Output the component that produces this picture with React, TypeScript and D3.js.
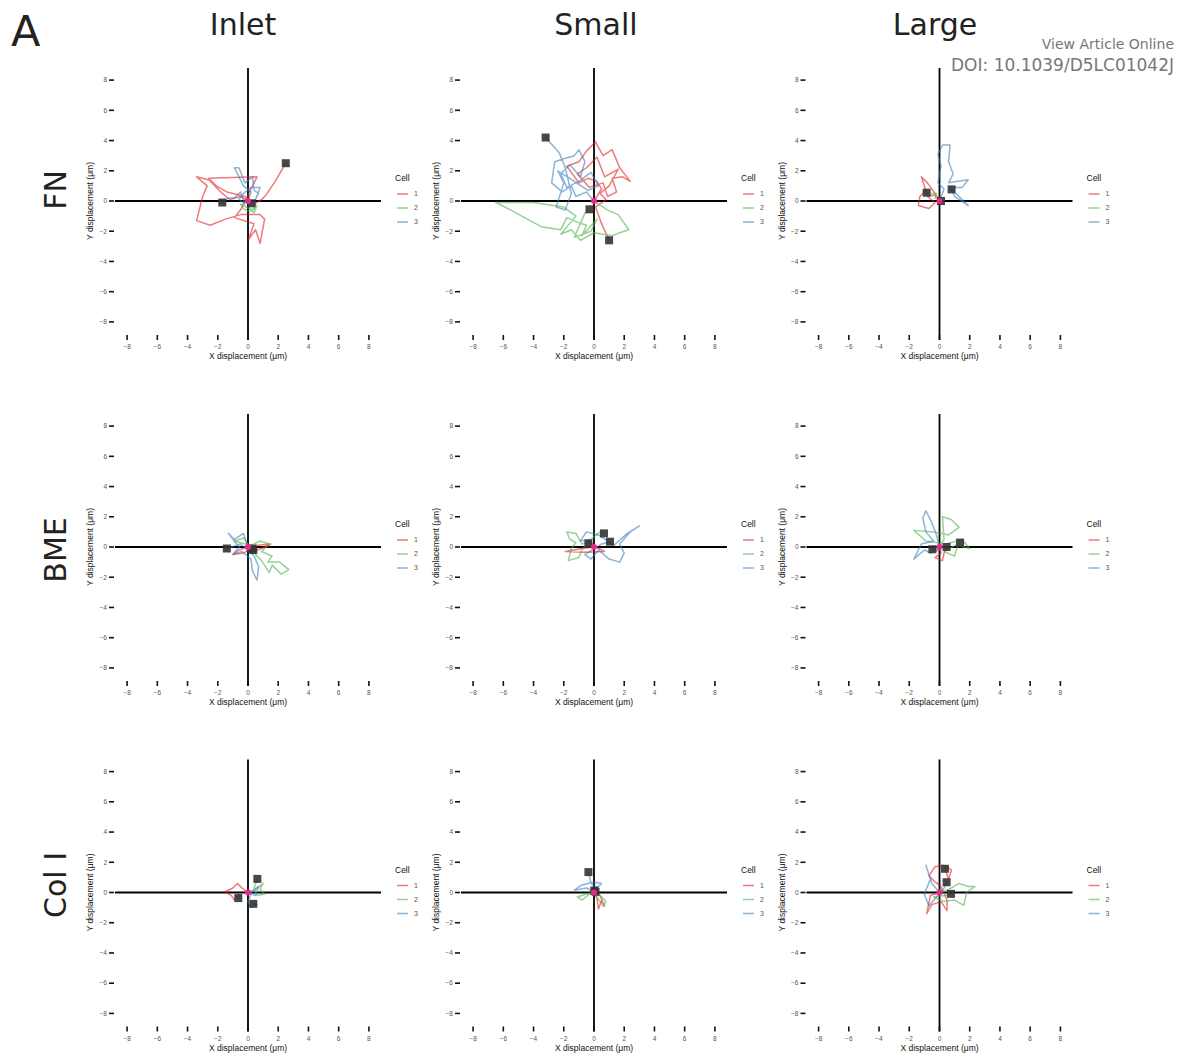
import React from "react";
import * as d3 from "d3";

type Pt = [number, number];

const columns = ["Inlet", "Small", "Large"];
const rows = ["FN", "BME", "Col I"];
const cellNames = ["1", "2", "3"];
const cellColors = ["#e41a1c", "#4daf4a", "#377eb8"];
const tickValues = [-8, -6, -4, -2, 0, 2, 4, 6, 8];

// FN
const fnInlet1: Pt[] = [[0, 0], [-0.5, 0.3], [-1.2, 0.1], [-1.7, 0.5], [-2.6, 1.4], [-3.4, 1.6], [-2.7, 1.0], [-3.0, 0.3], [-3.4, -1.3], [-2.5, -1.6], [-1.5, -1.2], [-0.5, -0.9], [0.8, -0.9], [1.1, -1.2], [0.8, -2.8], [0.5, -1.9], [0.0, -2.6], [0.4, -1.5], [-0.9, -1.1], [-0.5, -0.6], [0.6, 1.6], [-2.6, 1.5], [-2.1, 1.0], [-1.4, 0.6], [-1.0, 0.5], [-0.2, 0.3], [0.4, -0.2], [0.9, 0.1], [1.2, 0.4], [1.8, 1.3], [2.5, 2.5]];
const fnInlet2: Pt[] = [[0, 0], [0.3, -0.3], [0.5, -0.5], [0.1, -0.7], [-0.3, -0.5], [-0.5, -0.2], [-0.1, -0.4], [0.2, -0.6], [0.6, -0.3], [0.4, -0.8], [0.1, -0.45], [0.25, -0.15]];
const fnInlet3: Pt[] = [[0, 0], [0.2, 0.6], [-0.3, 1.0], [-0.6, 1.6], [-0.9, 2.2], [-0.6, 2.2], [-0.2, 1.2], [0.3, 1.6], [0.4, 0.7], [0.7, 0.5], [0.5, 0.1], [0.8, 0.9], [0.2, 0.9], [-0.3, 0.5], [-0.6, 0.1], [-0.2, -0.2], [-0.5, 0.6], [-0.9, 0.2], [-1.3, 0.2], [-1.7, -0.1]];
const fnSmall1: Pt[] = [[0, 0], [0.5, 0.8], [0.2, 1.3], [-0.4, 1.5], [-1.0, 1.2], [-1.8, 2.3], [-1.0, 2.6], [-0.5, 3.3], [0.1, 3.9], [0.6, 3.0], [1.2, 3.4], [1.7, 2.2], [2.4, 1.3], [1.9, 1.6], [1.2, 1.5], [1.5, 0.6], [0.9, 0.3], [0.6, 1.2], [-0.3, 0.9], [-1.1, 1.8], [-0.5, 2.2], [0.2, 2.9], [0.7, 1.6], [1.6, 2.1], [1.0, 1.0], [0.4, 0.5], [0.8, 0.1], [0.1, -0.4], [0.5, -1.5], [1.0, -2.6]];
const fnSmall2: Pt[] = [[0, 0], [0.9, -0.6], [1.6, -0.9], [2.3, -1.9], [1.7, -2.1], [1.2, -2.3], [0.0, -2.1], [-0.9, -2.6], [-1.5, -1.9], [-2.2, -2.2], [-1.2, -1.0], [-2.0, -0.4], [-4.0, -0.1], [-6.5, -0.1], [-5.5, -0.6], [-3.5, -1.7], [-2.2, -1.9], [-1.8, -1.1], [-1.1, -1.4], [-0.5, -1.6], [-0.8, -2.3], [0.2, -1.2], [-0.2, -2.0], [-1.3, -2.4], [-0.6, -0.8], [-0.3, -0.55]];
const fnSmall3: Pt[] = [[0, 0], [-0.5, 0.6], [-1.2, 0.3], [-1.5, 1.0], [-2.1, 0.6], [-2.8, 1.2], [-2.6, 2.6], [-2.0, 2.8], [-1.3, 3.0], [-1.0, 3.4], [-0.6, 2.6], [-0.9, 1.6], [-1.6, 2.4], [-2.2, 1.8], [-1.8, 0.9], [-1.0, 1.3], [-0.2, 1.9], [0.3, 1.0], [-0.4, 0.7], [-1.6, 1.5], [-2.4, 2.0], [-2.0, 1.2], [-2.5, -0.4], [-1.9, -0.6], [-1.5, 0.5], [-1.9, 2.2], [-2.3, 3.2], [-3.2, 4.2]];
const fnLarge1: Pt[] = [[0, 0], [-0.3, 0.5], [-0.8, 1.2], [-1.2, 1.6], [-0.9, 0.7], [-1.3, 0.3], [-1.4, -0.3], [-0.7, -0.5], [-0.3, -0.1], [-0.8, 0.3], [-0.3, 0.4], [0.1, 0.0]];
const fnLarge2: Pt[] = [[0, 0], [-0.3, 0.2], [-0.2, 0.5], [-0.6, 0.5], [-0.85, 0.55]];
const fnLarge3: Pt[] = [[0, 0], [0.3, 0.8], [-0.1, 1.2], [0.1, 2.3], [-0.1, 3.1], [0.2, 3.7], [0.7, 3.7], [0.6, 2.6], [0.9, 1.8], [0.6, 1.2], [1.9, 1.4], [1.5, 0.9], [0.7, 0.9], [1.0, 0.3], [1.9, -0.3], [0.8, 0.77]];

// BME
const bmeInlet1: Pt[] = [[0, 0], [-0.6, -0.2], [-1.0, -0.5], [-0.3, -0.4], [0.5, 0.1], [1.5, 0.2], [0.9, -0.1], [0.3, -0.3], [0.3, -0.1]];
const bmeInlet2: Pt[] = [[0, 0], [0.8, 0.4], [1.4, 0.2], [0.9, -0.3], [1.6, -0.6], [1.3, -1.0], [2.1, -1.0], [2.7, -1.5], [2.2, -1.8], [1.6, -1.2], [1.4, -1.7], [0.9, -0.9], [0.4, -0.4], [-0.3, 0.6], [-0.9, 0.4], [0.2, 0.1], [0.35, -0.2]];
const bmeInlet3: Pt[] = [[0, 0], [-0.3, 0.9], [-0.9, 0.5], [-1.3, 0.9], [-0.6, 0.0], [-1.0, -0.5], [-0.4, -0.3], [0.2, -0.8], [0.3, -1.6], [0.6, -2.2], [0.7, -1.3], [0.4, -0.6], [0.0, -0.2], [-0.5, 0.2], [-1.4, -0.1]];
const bmeSmall1: Pt[] = [[0, 0], [-0.8, -0.1], [-1.9, -0.3], [-0.6, -0.35], [0.7, -0.3], [0.3, -0.1], [-0.37, 0.24]];
const bmeSmall2: Pt[] = [[0, 0], [-0.4, 0.3], [-0.8, 0.2], [-1.2, 0.9], [-1.8, 1.0], [-1.6, 0.5], [-1.2, 0.3], [-1.5, -0.1], [-1.7, -0.9], [-1.0, -0.7], [-0.8, -0.2], [-0.2, 0.5], [0.4, 1.0], [0.66, 0.9]];
const bmeSmall3: Pt[] = [[0, 0], [-0.3, 0.5], [-0.9, 0.4], [-0.5, 1.0], [0.3, 0.8], [1.3, 0.1], [2.2, 0.9], [3.0, 1.4], [2.4, 1.0], [1.7, 0.2], [2.0, -0.4], [1.7, -1.0], [1.0, -0.8], [0.3, -0.2], [-0.2, -0.8], [-0.6, -0.5], [0.5, 0.2], [1.06, 0.35]];
const bmeLarge1: Pt[] = [[0, 0], [0.1, -0.4], [-0.3, -0.7], [0.2, -0.9], [0.3, -0.4], [0.47, 0.0]];
const bmeLarge2: Pt[] = [[0, 0], [0.3, 0.5], [0.2, 2.0], [0.8, 1.8], [1.3, 1.3], [0.6, 0.8], [-0.4, 1.0], [-1.7, 1.1], [-0.9, 0.4], [0.4, 0.2], [1.5, 0.5], [2.0, -0.1], [1.2, 0.1], [1.0, -0.6], [0.3, -0.3], [1.36, 0.29]];
const bmeLarge3: Pt[] = [[0, 0], [-0.2, 0.8], [-0.5, 1.6], [-0.9, 2.4], [-1.1, 1.9], [-0.9, 1.0], [-0.4, 0.4], [-1.2, 0.2], [-1.7, -0.8], [-1.0, -0.2], [-0.6, -0.4], [0.0, -0.2], [-0.47, -0.15]];

// Col I
const colInlet1: Pt[] = [[0, 0], [-0.4, 0.3], [-0.7, 0.6], [-1.0, 0.3], [-1.5, 0.05], [-1.1, -0.2], [-0.9, -0.5], [-0.6, -0.1], [-0.64, -0.37]];
const colInlet2: Pt[] = [[0, 0], [0.5, 0.2], [1.0, 0.6], [0.8, 0.2], [1.1, -0.1], [0.6, -0.2], [0.4, 0.3], [0.62, 0.9]];
const colInlet3: Pt[] = [[0, 0], [0.5, -0.2], [0.7, 0.4], [0.3, 0.1], [0.0, -0.6], [0.2, -1.0], [0.6, -0.8], [0.35, -0.75]];
const colSmall1: Pt[] = [[0, 0], [0.2, -0.4], [0.3, -1.1], [0.5, -0.5], [0.7, -0.9], [0.4, -0.2], [0.1, 0.05]];
const colSmall2: Pt[] = [[0, 0], [-0.5, -0.1], [-1.1, -0.3], [-0.8, -0.5], [-0.3, -0.1], [0.4, -0.2], [0.8, -0.6], [0.6, -0.9], [0.2, -0.3], [0.02, 0.13]];
const colSmall3: Pt[] = [[0, 0], [-0.5, 0.3], [-1.3, 0.15], [-0.8, 0.5], [0.0, 0.7], [0.5, 0.6], [0.2, 0.3], [-0.2, 0.6], [-0.37, 1.35]];
const colLarge1: Pt[] = [[0, 0], [-0.6, -0.2], [-0.85, -1.4], [-0.5, -0.8], [0.1, -0.6], [0.5, -1.2], [0.5, -0.5], [0.1, 0.4], [-0.3, 0.7], [-0.7, 1.1], [-0.3, 1.7], [0.25, 1.8], [0.8, 1.5], [0.6, 0.9], [0.36, 1.57]];
const colLarge2: Pt[] = [[0, 0], [0.6, 0.2], [1.3, 0.6], [1.9, 0.4], [2.35, 0.4], [1.8, 0.0], [1.6, -0.85], [1.0, -0.5], [0.3, -0.6], [-0.4, -0.3], [0.4, -0.2], [0.76, -0.09]];
const colLarge3: Pt[] = [[0, 0], [-0.5, 0.6], [-0.9, 1.8], [-0.6, 0.9], [-1.0, -0.1], [-0.7, -0.9], [-0.2, -0.3], [0.3, 0.3], [0.47, 0.68]];

const panelTracks: Pt[][][][] = [
  [[fnInlet1, fnInlet2, fnInlet3], [fnSmall1, fnSmall2, fnSmall3], [fnLarge1, fnLarge2, fnLarge3]],
  [[bmeInlet1, bmeInlet2, bmeInlet3], [bmeSmall1, bmeSmall2, bmeSmall3], [bmeLarge1, bmeLarge2, bmeLarge3]],
  [[colInlet1, colInlet2, colInlet3], [colSmall1, colSmall2, colSmall3], [colLarge1, colLarge2, colLarge3]],
];

const W = 1187;
const H = 1054;
const colCenters = [248, 594, 939.5];
const rowCenters = [201, 547, 892.5];
const half = 133;
const labelFont = "'Liberation Sans', Arial, sans-serif";
const titleFont = "'DejaVu Sans', Verdana, sans-serif";

const Panel = ({ cx, cy, tracks }: { cx: number; cy: number; tracks: Pt[][] }) => {
  const x = d3.scaleLinear().domain([-8.8, 8.8]).range([cx - half, cx + half]);
  const y = d3.scaleLinear().domain([-8.8, 8.8]).range([cy + half, cy - half]);
  const line = d3.line<Pt>().x((d) => x(d[0])).y((d) => y(d[1]));
  return (
    <g>
      {/* zero lines */}
      <line x1={x(-8.8)} x2={x(8.8)} y1={y(0)} y2={y(0)} stroke="#000" strokeWidth={1.8} />
      <line x1={x(0)} x2={x(0)} y1={y(8.8)} y2={cy + half + 6} stroke="#000" strokeWidth={1.8} />
      {/* y axis ticks */}
      {tickValues.map((t) => (
        <g key={"y" + t}>
          <line x1={cx - half - 6} x2={cx - half - 1} y1={y(t)} y2={y(t)} stroke="#111" strokeWidth={1.6} />
          <text x={cx - half - 8} y={y(t)} dy="0.35em" textAnchor="end" fontSize={6.5} fill="#555" fontFamily={labelFont}>
            {t < 0 ? "\u2212" + Math.abs(t) : t}
          </text>
        </g>
      ))}
      {/* x axis ticks */}
      {tickValues.map((t) => (
        <g key={"x" + t}>
          <line x1={x(t)} x2={x(t)} y1={cy + half + 1} y2={cy + half + 6} stroke="#111" strokeWidth={1.6} />
          <text x={x(t)} y={cy + half + 15} textAnchor="middle" fontSize={6.5} fill="#555" fontFamily={labelFont}>
            {t < 0 ? "\u2212" + Math.abs(t) : t}
          </text>
        </g>
      ))}
      <text x={cx} y={cy + half + 25} textAnchor="middle" fontSize={8.5} fill="#111" fontFamily={labelFont}>
        X displacement (μm)
      </text>
      <text transform={`translate(${cx - 155},${cy}) rotate(-90)`} textAnchor="middle" fontSize={8.5} fill="#111" fontFamily={labelFont}>
        Y displacement (μm)
      </text>
      {/* tracks */}
      {tracks.map((tr, i) => (
        <path key={"t" + i} d={line(tr) || ""} fill="none" stroke={cellColors[i]} strokeOpacity={0.58} strokeWidth={1.5} strokeLinejoin="round" />
      ))}
      {/* end points */}
      {tracks.map((tr, i) => {
        const p = tr[tr.length - 1];
        return <rect key={"e" + i} x={x(p[0]) - 4} y={y(p[1]) - 4} width={8} height={8} fill="#333" fillOpacity={0.9} />;
      })}
      <circle cx={x(0)} cy={y(0)} r={3} fill="#e7298a" />
      {/* legend */}
      <text x={cx + 147} y={cy - 20} fontSize={8.5} fill="#111" fontFamily={labelFont}>
        Cell
      </text>
      {cellNames.map((n, i) => (
        <g key={"l" + n}>
          <line x1={cx + 149} x2={cx + 160} y1={cy - 7 + i * 14} y2={cy - 7 + i * 14} stroke={cellColors[i]} strokeOpacity={0.58} strokeWidth={1.5} />
          <text x={cx + 166} y={cy - 7 + i * 14} dy="0.35em" fontSize={7} fill="#555" fontFamily={labelFont}>
            {n}
          </text>
        </g>
      ))}
    </g>
  );
};

export default function App() {
  return (
    <svg width={W} height={H} style={{ position: "absolute", left: 0, top: 0, background: "#fff" }}>
      <rect width={W} height={H} fill="#fff" />
      <text x={11} y={46} fontSize={43} fill="#222" fontFamily={titleFont}>
        A
      </text>
      {columns.map((c, i) => (
        <text key={c} x={[243, 596, 935][i]} y={35} textAnchor="middle" fontSize={30} fill="#222" fontFamily={titleFont}>
          {c}
        </text>
      ))}
      {rows.map((r, i) => (
        <text key={r} transform={`translate(66,${[190, 550, 885][i]}) rotate(-90)`} textAnchor="middle" fontSize={30} fill="#222" fontFamily={titleFont}>
          {r}
        </text>
      ))}
      <text x={1174} y={49} textAnchor="end" fontSize={14} fill="#777" fontFamily={titleFont}>
        View Article Online
      </text>
      <text x={1174} y={71} textAnchor="end" fontSize={17} fill="#777" fontFamily={titleFont}>
        DOI: 10.1039/D5LC01042J
      </text>
      {rows.map((r, ri) =>
        columns.map((c, ci) => (
          <Panel key={r + c} cx={colCenters[ci]} cy={rowCenters[ri]} tracks={panelTracks[ri][ci]} />
        ))
      )}
    </svg>
  );
}
